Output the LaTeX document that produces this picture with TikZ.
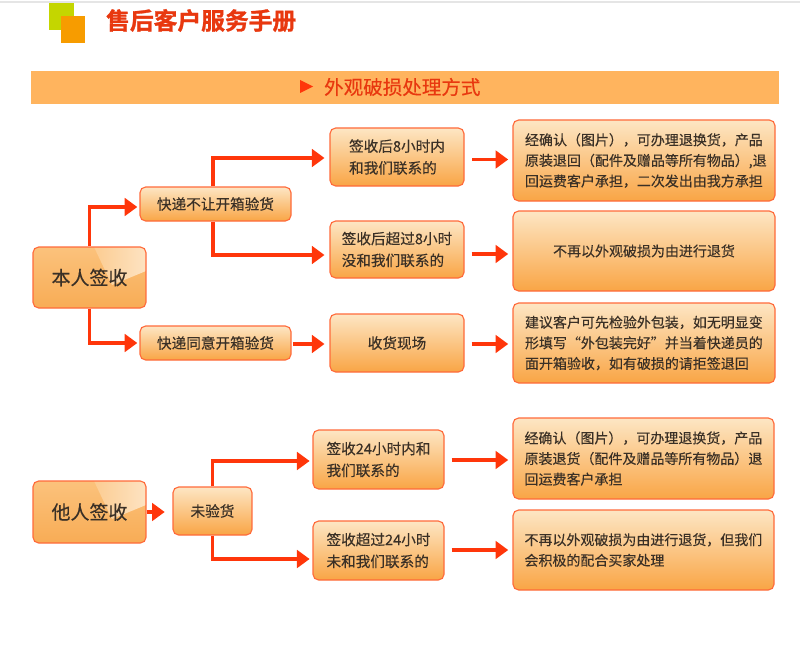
\documentclass[tikz,border=0pt]{standalone}
\usepackage{fontspec}
\setmainfont[FakeBold=0.3]{Noto Sans CJK SC}
\newfontfamily\titlefont[FakeBold=1.2]{Noto Sans CJK SC Bold}
\usetikzlibrary{arrows.meta}
\definecolor{linered}{HTML}{FF360A}
\definecolor{boxedge}{HTML}{FF6A3A}
\definecolor{boxtop}{HTML}{FDE6C4}
\definecolor{boxbottom}{HTML}{F9A545}
\definecolor{bigtop}{HTML}{FBC27C}
\definecolor{bigbottom}{HTML}{F8AC55}
\definecolor{glosstop}{HTML}{FDE3C2}
\definecolor{inktext}{HTML}{3A3026}
\definecolor{bannerfill}{HTML}{FFB45E}
\definecolor{titlered}{HTML}{E8380F}
\definecolor{logogreen}{HTML}{C4D600}
\definecolor{logoorange}{HTML}{F79C00}
\newcommand{\boxfont}{\fontsize{20.8}{31}\selectfont}
\newcommand{\resfont}{\fontsize{19.9}{29.3}\selectfont}
\newcommand{\bigfont}{\fontsize{27}{32}\selectfont}

\begin{document}
\begin{tikzpicture}[
    x=0.05cm, y=-0.05cm,
    box/.style={draw=boxedge, line width=1.6pt, rounded corners=8pt, inner sep=0pt, align=left,
        top color=boxtop, bottom color=boxbottom, text=inktext, font=\boxfont},
    resbox/.style={box, font=\resfont, text width=238*0.05cm},
    bigbox/.style={box, top color=bigtop, bottom color=bigbottom, font=\bigfont, align=center,
        path picture={\shade[sharp corners, left color=bigtop, right color=glosstop, middle color=bigtop!75!glosstop]
            (path picture bounding box.north east) ++(-52,0) -- ++(52,0) -- ++(0,24) -- ++(-34,14) -- cycle;}},
    flow/.style={draw=linered, line width=4.5pt, -{Triangle[length=18pt, width=25pt]}, shorten >=7pt}
]
\useasboundingbox (0,0) rectangle (800,660);

% Header
\draw[black!10, line width=1.5pt] (0,2) -- (800,2);
\fill[logogreen] (49,3) rectangle (74,30);
\fill[logoorange] (61,16) rectangle (85,43);
\node[font=\fontsize{33.8}{36}\titlefont, text=titlered, anchor=west, inner sep=0pt] (title) at (106,20.5) {售后客户服务手册};

% Banner
\fill[bannerfill] (31,71) rectangle (779,104);
\fill[linered] (300,80) -- (313,86.5) -- (300,93) -- cycle;
\node[font=\fontsize{27.8}{30}\selectfont, text=titlered, anchor=west, inner sep=0pt] (banner) at (324,87) {外观破损处理方式};

% Upper group
\node[bigbox, minimum width=113*0.05cm, minimum height=61*0.05cm] (self) at (89.5,277.5) {本人签收};
\node[box, align=center, minimum width=151*0.05cm, minimum height=34*0.05cm] (noopen) at (215.5,204) {快递不让开箱验货};
\node[box, align=center, minimum width=151*0.05cm, minimum height=34*0.05cm] (open) at (215.5,343) {快递同意开箱验货};

\node[box, minimum width=134*0.05cm, minimum height=58*0.05cm] (within) at (397,157) {签收后8小时内\\和我们联系的};
\node[box, minimum width=134*0.05cm, minimum height=57*0.05cm] (over) at (397,249.5) {签收后超过8小时\\没和我们联系的};
\node[box, align=center, minimum width=134*0.05cm, minimum height=58*0.05cm] (scene) at (397,343) {收货现场};

\node[resbox, minimum width=262*0.05cm, minimum height=81*0.05cm] (resA) at (644,160.5) {经确认（图片），可办理退换货，产品\\原装退回（配件及赠品等所有物品）,退\\回运费客户承担，二次发出由我方承担};
\node[box, font=\resfont, align=center, minimum width=262*0.05cm, minimum height=80*0.05cm] (resB) at (644,251) {不再以外观破损为由进行退货};
\node[resbox, minimum width=262*0.05cm, minimum height=80*0.05cm] (resC) at (644,343) {建议客户可先检验外包装，如无明显变\\形填写“外包装完好”并当着快递员的\\面开箱验收，如有破损的请拒签退回};

% Lower group
\node[bigbox, minimum width=113*0.05cm, minimum height=62*0.05cm] (other) at (89.5,512) {他人签收};
\node[box, align=center, minimum width=79*0.05cm, minimum height=48*0.05cm] (unchecked) at (212.5,511) {未验货};

\node[box, minimum width=131*0.05cm, minimum height=59*0.05cm] (within2) at (378.5,459.5) {签收24小时内和\\我们联系的};
\node[box, minimum width=131*0.05cm, minimum height=59*0.05cm] (over2) at (378.5,550.5) {签收超过24小时\\未和我们联系的};

\node[resbox, minimum width=261*0.05cm, minimum height=81*0.05cm] (resD) at (643.5,458.5) {经确认（图片），可办理退换货，产品\\原装退货（配件及赠品等所有物品）退\\回运费客户承担};
\node[resbox, minimum width=261*0.05cm, minimum height=80*0.05cm] (resE) at (643.5,550) {不再以外观破损为由进行退货，但我们\\会积极的配合买家处理};

% Connectors
\draw[flow, shorten >=3pt] (self.north) |- ([yshift=-3*0.05cm]noopen.west);
\draw[flow, shorten >=3pt] (self.south) |- (open.west);
\draw[flow] ([xshift=-2.5*0.05cm]noopen.north) |- ([yshift=-1*0.05cm]within.west);
\draw[flow] ([xshift=-2.5*0.05cm]noopen.south) |- ([yshift=-5.5*0.05cm]over.west);
\draw[flow, shorten <=2pt] ([yshift=-1*0.05cm]open.east) -- ([yshift=-1*0.05cm]scene.west);
\draw[flow, shorten <=11pt, shorten >=6pt] ([yshift=1*0.05cm]within.east |- resA.west) -- ([yshift=1*0.05cm]resA.west);
\draw[flow, shorten <=10pt, shorten >=6pt] ([yshift=-3*0.05cm]over.east |- resB.west) -- ([yshift=-3*0.05cm]resB.west);
\draw[flow, shorten <=10pt, shorten >=6pt] ([yshift=-1*0.05cm]scene.east) -- ([yshift=-1*0.05cm]resC.west);
\draw[flow, shorten >=11pt] (other.east) -- (other.east -| unchecked.west);
\draw[flow, shorten >=4pt] (unchecked.north) |- ([yshift=-1.5*0.05cm]within2.west);
\draw[flow, shorten >=4pt] (unchecked.south) |- ([yshift=-8.5*0.05cm]over2.west);
\draw[flow, shorten <=10pt, shorten >=6pt] ([yshift=-1.5*0.05cm]within2.east |- resD.west) -- ([yshift=-1.5*0.05cm]resD.west);
\draw[flow, shorten <=10pt, shorten >=6pt] (over2.east |- resE.west) -- (resE.west);

\end{tikzpicture}
\end{document}
